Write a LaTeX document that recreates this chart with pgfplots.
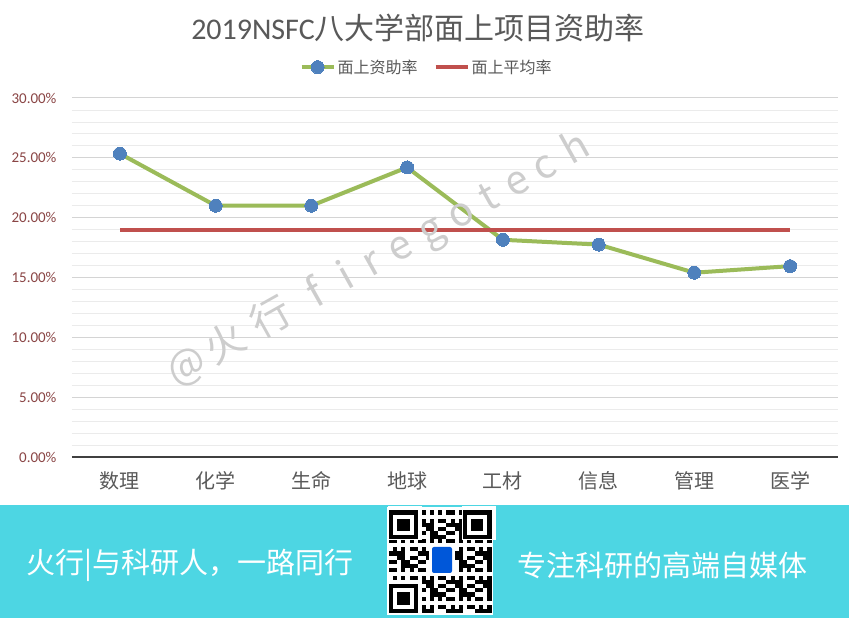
\documentclass[border=0pt]{standalone}
\usepackage{pgfplots}
\pgfplotsset{compat=1.18}
\usepackage{fontspec}
\setmainfont{Carlito}
\newfontfamily\cjk{Noto Sans CJK SC}
\definecolor{gline}{HTML}{9BBB59}
\definecolor{mblue}{HTML}{4F81BD}
\definecolor{rline}{HTML}{C0504D}
\definecolor{labgray}{HTML}{595959}
\definecolor{ticred}{HTML}{8A4545}
\definecolor{banner}{HTML}{4DD6E3}
\definecolor{wm}{HTML}{CDCDCD}
\newcommand{\wb}[2]{\makebox[#1pt][c]{#2}}
\begin{document}
\begin{tikzpicture}[x=1pt,y=1pt]
\fill[white] (0,0) rectangle (849,618);
% banner
\fill[banner] (0,0) rectangle (849,113);
\node[text=white,font=\cjk\fontsize{29}{29}\selectfont] at (190,53) {火行|与科研人，一路同行};
\node[text=white,font=\cjk\fontsize{29}{29}\selectfont] at (662,53) {专注科研的高端自媒体};
% QR-like decoration
\fill[white] (387,3) rectangle (493,111);
\begin{scope}[shift={(389,5)}]
\foreach \i in {0,...,24}{\foreach \j in {0,...,24}{
  \pgfmathtruncatemacro{\v}{mod(\i*\i*7+\j*13+\i*\j*3+\j*\j*5+\i,7)}
  \ifnum\v<4 \fill[black] (\i*4.1,\j*4.1) rectangle ++(4.1,4.1);\fi
}}
\foreach \px/\py in {0/0,0/18,18/18}{
  \fill[white] (\px*4.1-1,\py*4.1-1) rectangle ++(8*4.1+1,8*4.1+1);
  \fill[black] (\px*4.1,\py*4.1) rectangle ++(7*4.1,7*4.1);
  \fill[white] (\px*4.1+4.1,\py*4.1+4.1) rectangle ++(5*4.1,5*4.1);
  \fill[black] (\px*4.1+8.2,\py*4.1+8.2) rectangle ++(3*4.1,3*4.1);
}
\fill[white] (40,38) rectangle (66,68);
\fill[blue!60!cyan!85!black, rounded corners=2pt] (43,40) rectangle (63,66);
\end{scope}
% title
\node[text=labgray,font=\fontsize{30}{30}\selectfont] at (418,590) {2019NSFC{\cjk 八大学部面上项目资助率}};
\begin{axis}[
  at={(72pt,161pt)}, anchor=south west, scale only axis,
  width=766pt, height=359pt,
  xmin=-0.5, xmax=7.5, ymin=0, ymax=30,
  xtick={0,...,7},
  xticklabels={数理,化学,生命,地球,工材,信息,管理,医学},
  xticklabel style={font=\cjk\fontsize{20}{20}\selectfont, text=labgray, yshift=-11pt},
  ytick={0,5,...,30},
  minor ytick={1,2,3,4,6,7,8,9,11,12,13,14,16,17,18,19,21,22,23,24,26,27,28,29},
  yticklabel={\pgfmathprintnumber[fixed,fixed zerofill,precision=2,assume math mode=true]{\tick}\%},
  yticklabel style={font=\fontsize{15}{15}\selectfont, text=ticred, xshift=-12pt},
  ymajorgrids, yminorgrids,
  major grid style={draw=black!17, line width=1pt},
  minor grid style={draw=black!8, line width=0.8pt},
  axis x line=bottom, axis y line=left,
  x axis line style={draw=black!75, line width=1.2pt, -},
  y axis line style={draw=none},
  major tick length=0pt, minor tick length=0pt,
  tick style={draw=none},
  clip=false,
  legend style={at={(rel axis cs:0.463,1.086)}, anchor=center, draw=none, fill=none,
    legend columns=2, font=\cjk\fontsize{16}{16}\selectfont, text=labgray,
    /tikz/every even column/.append style={column sep=14pt}},
  legend image code/.code={\draw[mark repeat=2,mark phase=2] plot coordinates {(0pt,0pt) (16pt,0pt) (32pt,0pt)};},
]
\addplot[gline, line width=4pt, mark=*, mark size=6.5pt, mark options={fill=mblue, draw=mblue, line width=0pt}]
  coordinates {(0,25.35) (1,21.0) (2,21.0) (3,24.2) (4,18.15) (5,17.75) (6,15.4) (7,15.95)};
\addlegendentry{面上资助率}
\addplot[rline, line width=4pt] coordinates {(0,18.95) (7,18.95)};
\addlegendentry{面上平均率}
\end{axis}
% watermark
\node[text=wm, inner sep=0pt, rotate=29.2, font=\cjk\fontsize{40}{40}\selectfont] at (380.8,359.3)
  {\wb{44}{@}\wb{46}{火}\wb{60}{行}\wb{40}{f}\wb{30}{i}\wb{30}{r}\wb{34}{e}\wb{36}{g}\wb{32}{o}\wb{32}{t}\wb{32}{e}\wb{32}{c}\wb{40}{h}};
\end{tikzpicture}
\end{document}
